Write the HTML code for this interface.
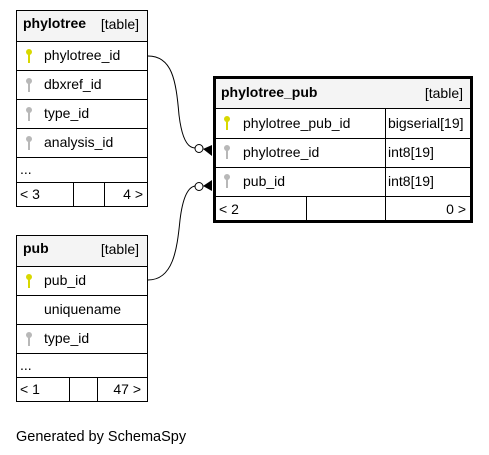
<!DOCTYPE html>
<html><head><meta charset="utf-8"><style>
html,body{margin:0;padding:0;background:#fff;}
svg{display:block;font-family:"Liberation Sans",sans-serif;font-size:14px;}
</style></head><body>
<svg width="489" height="455" viewBox="0 0 489 455" xmlns="http://www.w3.org/2000/svg">
<defs>
<g id="ky"><circle cx="0" cy="0" r="3" fill="#d8d800"/><rect x="-1" y="0" width="2" height="11" fill="#d8d800"/></g>
<g id="kg"><circle cx="0" cy="0" r="3" fill="#b8b8b8"/><rect x="-1" y="0" width="2" height="11" fill="#b8b8b8"/></g>
</defs>
<!-- phylotree -->
<rect x="16.5" y="10.5" width="131" height="31" fill="#f4f4f4" stroke="#000"/>
<rect x="16.5" y="41.5" width="131" height="165" fill="#fff" stroke="#000"/>
<g stroke="#000" stroke-width="1">
<line x1="16" y1="70.5" x2="148" y2="70.5"/><line x1="16" y1="99.5" x2="148" y2="99.5"/>
<line x1="16" y1="128.5" x2="148" y2="128.5"/><line x1="16" y1="157.5" x2="148" y2="157.5"/>
<line x1="16" y1="182.5" x2="148" y2="182.5"/>
<line x1="73.5" y1="182" x2="73.5" y2="206"/><line x1="104.5" y1="182" x2="104.5" y2="206"/>
</g>
<text x="23" y="28" font-weight="bold">phylotree</text><text x="139" y="29" text-anchor="end">[table]</text>
<use href="#ky" x="29" y="52"/><text x="44" y="60">phylotree_id</text>
<use href="#kg" x="29" y="81"/><text x="44" y="89">dbxref_id</text>
<use href="#kg" x="29" y="110"/><text x="44" y="118">type_id</text>
<use href="#kg" x="29" y="139"/><text x="44" y="147">analysis_id</text>
<text x="20" y="174">...</text>
<text x="20" y="199">&lt; 3</text><text x="143" y="199" text-anchor="end">4 &gt;</text>

<!-- pub -->
<rect x="16.5" y="235.5" width="131" height="31" fill="#f4f4f4" stroke="#000"/>
<rect x="16.5" y="266.5" width="131" height="135" fill="#fff" stroke="#000"/>
<g stroke="#000">
<line x1="16" y1="295.5" x2="148" y2="295.5"/><line x1="16" y1="324.5" x2="148" y2="324.5"/>
<line x1="16" y1="353.5" x2="148" y2="353.5"/><line x1="16" y1="377.5" x2="148" y2="377.5"/>
<line x1="69.5" y1="377" x2="69.5" y2="401"/><line x1="97.5" y1="377" x2="97.5" y2="401"/>
</g>
<text x="23" y="253" font-weight="bold">pub</text><text x="139" y="254" text-anchor="end">[table]</text>
<use href="#ky" x="29" y="277"/><text x="44" y="285">pub_id</text>
<text x="44" y="314">uniquename</text>
<use href="#kg" x="29" y="335"/><text x="44" y="343">type_id</text>
<text x="20" y="370">...</text>
<text x="20" y="394">&lt; 1</text><text x="141" y="394" text-anchor="end">47 &gt;</text>

<!-- phylotree_pub -->
<rect x="214.5" y="77.5" width="257" height="31" fill="#f4f4f4"/>
<rect x="214.5" y="108.5" width="257" height="113" fill="#fff"/>
<g stroke="#000">
<line x1="214" y1="108.5" x2="472" y2="108.5"/><line x1="214" y1="138.5" x2="472" y2="138.5"/>
<line x1="214" y1="167.5" x2="472" y2="167.5"/><line x1="214" y1="196.5" x2="472" y2="196.5"/>
<line x1="385.5" y1="108" x2="385.5" y2="222"/><line x1="306.5" y1="196" x2="306.5" y2="222"/>
</g>
<rect x="214.5" y="77.5" width="257" height="144" fill="none" stroke="#000" stroke-width="3"/>
<text x="221" y="97" font-weight="bold">phylotree_pub</text><text x="463" y="98" text-anchor="end">[table]</text>
<use href="#ky" x="227" y="119"/><text x="243" y="128">phylotree_pub_id</text><text x="388" y="128">bigserial[19]</text>
<use href="#kg" x="227" y="148"/><text x="243" y="157">phylotree_id</text><text x="388" y="157">int8[19]</text>
<use href="#kg" x="227" y="177"/><text x="243" y="186">pub_id</text><text x="388" y="186">int8[19]</text>
<text x="219" y="214">&lt; 2</text><text x="466" y="214" text-anchor="end">0 &gt;</text>

<!-- connectors -->
<g fill="none" stroke="#000" stroke-width="1">
<path d="M148,56 C172,56 176,80 179,115 C182,140 188,148 195,148"/>
<path d="M148,280 C173,280 177,250 180,220 C183,195 189,187 195,186"/>
</g>
<circle cx="199" cy="148.5" r="4" fill="#fff" stroke="#000"/>
<circle cx="199" cy="186.5" r="4" fill="#fff" stroke="#000"/>
<polygon points="203,149 212,145 212,156" fill="#000"/>
<polygon points="203,186 212,180 212,191" fill="#000"/>

<text x="16" y="441" font-size="14.5">Generated by SchemaSpy</text>
</svg>
</body></html>
